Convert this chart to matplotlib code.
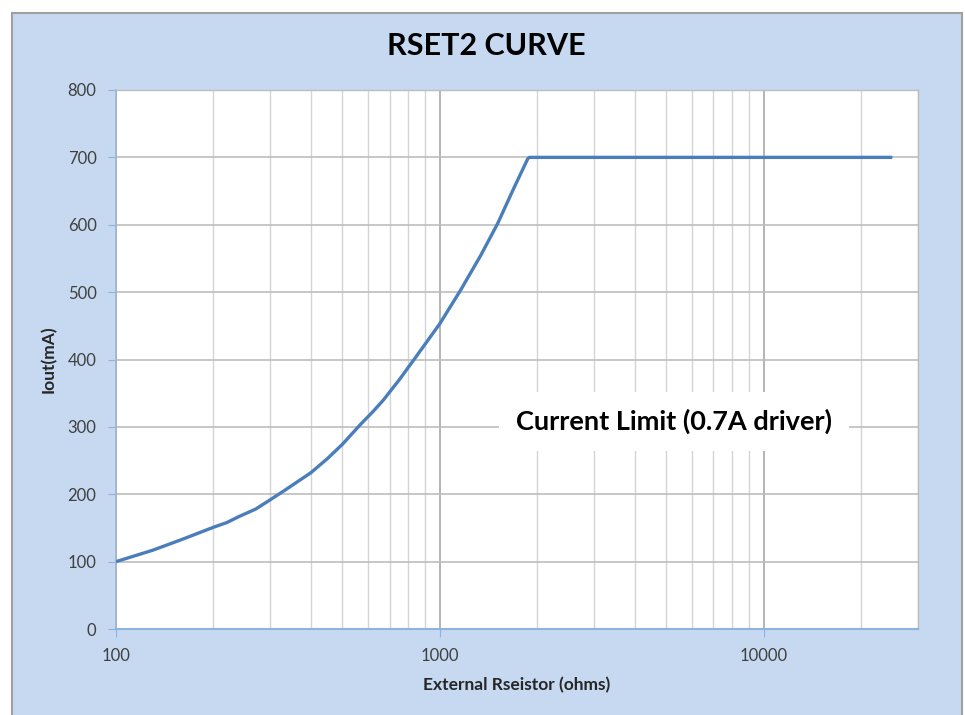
"""RSET2 curve: output current vs. external resistor (log x)."""

import matplotlib
matplotlib.use("Agg")
import matplotlib.pyplot as plt
from matplotlib.patches import Rectangle
from matplotlib.ticker import FixedLocator, LogLocator, NullFormatter

BG = "#c6d9f1"
LINE = "#4a7ebb"
TEXT = "#404040"

resistor_ohms = [100, 130, 160, 200, 220, 240, 270, 300, 330, 400, 450, 500, 570,
                 620, 670, 750, 830, 1000, 1160, 1340, 1510, 1700, 1870, 1890, 25000]
iout_ma = [100, 117, 133, 151, 158, 167, 178, 192, 205, 232, 253, 274, 304,
           322, 340, 370, 399, 453, 503, 555, 602, 656, 698, 700, 700]

y_ticks = [0, 100, 200, 300, 400, 500, 600, 700, 800]
x_ticks = [100, 1000, 10000]
x_limits = (100, 30000)

title = "RSET2 CURVE"
x_label = "External Rseistor (ohms)"
y_label = "Iout(mA)"
note = "Current Limit (0.7A driver)"
note_pos = (5300, 308)

plt.rcParams["font.family"] = ["Lato", "DejaVu Sans"]

fig = plt.figure(figsize=(9.65, 7.15), dpi=100, facecolor="white")
fig.patches.append(Rectangle((12 / 965, -0.05), (962 - 12) / 965, 1 - 13 / 715 + 0.05,
                             transform=fig.transFigure, facecolor=BG,
                             edgecolor="#a0a0a0", linewidth=1.5, zorder=-10))

ax = fig.add_axes([116 / 965, 1 - 629 / 715, (918 - 116) / 965, (629 - 90) / 715])
ax.set_facecolor("white")
ax.plot(resistor_ohms, iout_ma, color=LINE, linewidth=2.4, solid_capstyle="butt",
        solid_joinstyle="round", zorder=3)

ax.set_xscale("log")
ax.set_xlim(*x_limits)
ax.set_ylim(y_ticks[0], y_ticks[-1])
ax.set_yticks(y_ticks)
ax.xaxis.set_major_locator(FixedLocator(x_ticks))
ax.set_xticklabels([str(v) for v in x_ticks])
ax.xaxis.set_minor_locator(LogLocator(base=10, subs=range(2, 10)))
ax.xaxis.set_minor_formatter(NullFormatter())

ax.grid(True, which="major", axis="x", color="#a8a8a8", linewidth=1.2, zorder=0)
ax.grid(True, which="minor", axis="x", color="#d4d4d4", linewidth=1.0, zorder=0)
ax.grid(True, which="major", axis="y", color="#bdbdbd", linewidth=1.2, zorder=0)
ax.set_axisbelow(True)

for side in ("top", "right"):
    ax.spines[side].set_color("#bdbdbd")
    ax.spines[side].set_linewidth(1.0)
ax.spines["left"].set_color("#9fb4cf")
ax.spines["bottom"].set_color("#8db3e2")
ax.spines["left"].set_linewidth(1.2)
ax.spines["bottom"].set_linewidth(1.5)

ax.tick_params(axis="both", which="major", direction="out", length=6,
               color="#8db3e2", labelsize=12, labelcolor=TEXT)
ax.tick_params(axis="x", which="major", pad=8)
ax.tick_params(axis="y", which="major", pad=8)
ax.tick_params(axis="x", which="minor", length=0)

ax.set_xlabel(x_label, fontsize=12.5, fontweight="bold", color="#262626", labelpad=9)
ax.set_ylabel(y_label, fontsize=12.5, fontweight="bold", color="#262626", labelpad=8)

ax.text(*note_pos, note, fontsize=19.5, fontweight="bold", color="black",
        ha="center", va="center", zorder=4,
        bbox=dict(facecolor="white", edgecolor="none", pad=12))

fig.text(486 / 965, 1 - 46 / 715, title, fontsize=22, fontweight="bold",
         color="black", ha="center", va="center")

fig.savefig("out.png", dpi=100, facecolor="white")
